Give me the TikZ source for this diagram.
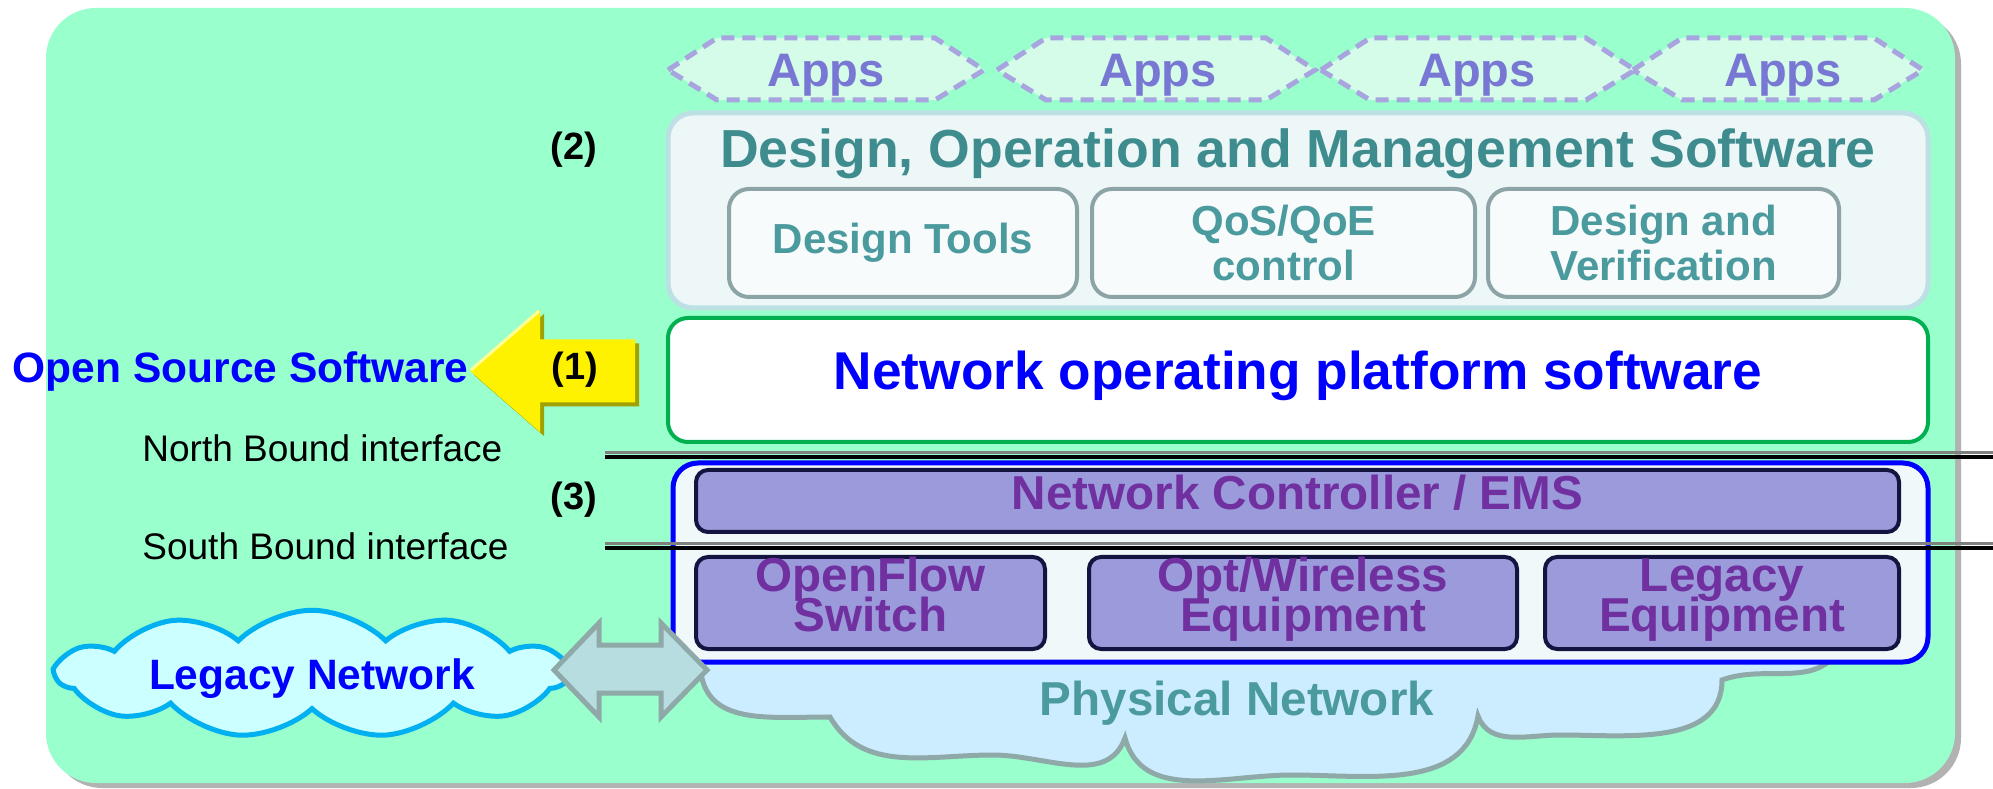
\documentclass[tikz,border=0pt]{standalone}
\usepackage{fontspec}
\setmainfont{Liberation Sans}
\usetikzlibrary{shapes.symbols}

% colours
\definecolor{bggreen}{RGB}{153,255,204}
\definecolor{appfill}{RGB}{212,252,232}
\definecolor{appline}{RGB}{168,164,224}
\definecolor{apptext}{RGB}{120,120,212}
\definecolor{domfill}{RGB}{238,247,248}
\definecolor{domline}{RGB}{188,224,228}
\definecolor{domtext}{RGB}{63,140,143}
\definecolor{subtext}{RGB}{74,154,158}
\definecolor{subline}{RGB}{140,164,166}
\definecolor{subfill}{RGB}{247,251,251}
\definecolor{nopline}{RGB}{0,176,80}
\definecolor{ctrlfill}{RGB}{155,155,219}
\definecolor{ctrlline}{RGB}{20,20,64}
\definecolor{ctrltext}{RGB}{112,48,160}
\definecolor{framefill}{RGB}{240,248,250}
\definecolor{physfill}{RGB}{204,236,255}
\definecolor{physline}{RGB}{143,168,168}
\definecolor{legfill}{RGB}{204,255,255}
\definecolor{legline}{RGB}{0,176,240}
\definecolor{linkfill}{RGB}{184,221,224}
\definecolor{arrowshade}{RGB}{160,160,0}
\definecolor{arrowlight}{RGB}{255,255,150}

\newcommand\tightlines{\lineskiplimit=-30pt\relax}

\tikzset{
  layerbox/.style={draw, inner sep=0pt, align=center},
  dombox/.style={layerbox, draw=domline, fill=domfill, line width=2.5pt, rounded corners=12.5pt,
    minimum width=630pt, minimum height=97.5pt},
  domtitle/.style={anchor=base, text=domtext, font=\bfseries\fontsize{26.8}{30}\selectfont},
  toolbox/.style={layerbox, draw=subline, fill=subfill, line width=2pt, rounded corners=10pt,
    minimum height=54pt, text=subtext, font=\bfseries\fontsize{21}{22.5}\selectfont},
  nopbox/.style={layerbox, draw=nopline, fill=white, line width=2pt, rounded corners=10pt,
    minimum width=630pt, minimum height=62pt, text=blue, text depth=9.4pt,
    font=\bfseries\fontsize{26.6}{30}\selectfont},
  framebox/.style={layerbox, draw=blue, fill=framefill, line width=2.5pt, rounded corners=12.5pt,
    minimum width=627.5pt, minimum height=99.5pt},
  devbox/.style={layerbox, draw=ctrlline, fill=ctrlfill, line width=2pt, rounded corners=6pt,
    text=ctrltext, font=\bfseries\fontsize{23.8}{20}\selectfont\tightlines},
  eqbox/.style={devbox, minimum height=44pt, text height=37.5pt, text depth=8.5pt},
  appshex/.style={draw=appline, line width=2.5pt, dash pattern=on 6.5pt off 4pt},
  appstext/.style={anchor=base, text=apptext, font=\bfseries\fontsize{23.5}{26}\selectfont},
  tag/.style={anchor=base, inner sep=0pt, font=\bfseries\fontsize{19}{22}\selectfont},
  ifacetext/.style={anchor=base west, inner sep=0pt, font=\fontsize{18.5}{22}\selectfont},
  bluetext/.style={text=blue, font=\bfseries\fontsize{21.25}{24}\selectfont},
}

\begin{document}
\begin{tikzpicture}[x=0.5pt, y=0.5pt]
\useasboundingbox (0,0) rectangle (1993,788);

% background panel
\fill[black!30, rounded corners=25pt] (52,0) rectangle (1961,774);
\fill[bggreen, rounded corners=25pt] (46,5) rectangle (1955,780);

% apps
\foreach \cx/\hw in {826/158,1156/159,1478/157,1778/145}
  \fill[appfill] (\cx-\hw,718) -- (\cx-\hw+49,750) -- (\cx+\hw-49,750) -- (\cx+\hw,718)
    -- (\cx+\hw-49,688) -- (\cx-\hw+49,688) -- cycle;
\foreach \cx/\hw/\tx [count=\i] in {826/158/826,1156/159/1158,1478/157/1477,1778/145/1783} {
  \draw[appshex] (\cx-\hw,718) -- (\cx-\hw+49,750) -- (\cx+\hw-49,750) -- (\cx+\hw,718)
    -- (\cx+\hw-49,688) -- (\cx-\hw+49,688) -- cycle;
  \node[appstext] (app\i) at (\tx,701) {Apps};
}

% design, operation and management
\node[dombox] (dom) at (1298,577.5) {};
\node[domtitle] (domt) at (1298,620) {Design, Operation and Management Software};
\node[toolbox, minimum width=174pt] (tools) at (903,545) {Design Tools};
\node[toolbox, minimum width=191.5pt] (qos) at (1283.5,545) {QoS/QoE\\control};
\node[toolbox, minimum width=175.5pt] (verif) at (1663.5,545) {Design and\\Verification};

% platform
\node[nopbox] (nop) at (1298,408) {Network operating platform software};

% physical network
\draw[physline, fill=physfill, line width=2.5pt] (700,128) to[out=-90,in=180,looseness=1.2] (830,71)
  to[out=-60,in=180] (993,33) to[out=0,in=-110] (1125,50)
  to[out=-75,in=180] (1292,13) to[out=0,in=-100] (1478,72)
  to[out=-70,in=180] (1560,53) to[out=0,in=-90] (1722,108)
  to[out=20,in=-120] (1840,140) -- (1840,300) -- (700,300) -- cycle;

% controller and equipment
\node[framebox] (frame) at (1300.5,225.5) {};
\node[devbox, minimum width=601.5pt, minimum height=31pt, text depth=8.5pt] (ems) at (1297.5,287)
  {Network Controller / EMS};
\node[eqbox, minimum width=174.5pt] (ofs) at (870.5,185) {OpenFlow\\Switch};
\node[eqbox, minimum width=214pt] (opt) at (1303,185) {Opt/Wireless\\Equipment};
\node[eqbox, minimum width=177pt] (legeq) at (1722,185) {Legacy\\Equipment};
\node[anchor=base, text=subtext, font=\bfseries\fontsize{23.8}{26}\selectfont] (phys) at (1237,73)
  {Physical Network};

% legacy network
\node[cloud, cloud puffs=11, cloud puff arc=90, aspect=6, draw=legline, fill=legfill,
  line width=2.5pt, minimum width=255pt, minimum height=33pt, bluetext, text height=15.5pt,
  text depth=0pt, inner sep=0pt] (legacy) at (312,114) {Legacy Network};
\draw[physline, fill=linkfill, line width=2.5pt] (554,118) -- (599,165) -- (599,143) -- (661,143)
  -- (661,165) -- (707,118) -- (661,71) -- (661,95) -- (599,95) -- (599,71) -- cycle;

% open source arrow
\fill[arrowshade] (474,413) -- (544,474) -- (544,444.5) -- (639,444.5) -- (639,381.5)
  -- (544,381.5) -- (544,352) -- cycle;
\fill[yellow] (470,417) -- (540,478) -- (540,448.5) -- (635,448.5) -- (635,385.5)
  -- (540,385.5) -- (540,356) -- cycle;
\draw[arrowlight, line width=1.5pt] (471,418) -- (539,477);
\node[bluetext, anchor=base east, inner sep=0pt] (oss) at (469,405) {Open Source Software};

% labels
\node[tag] (tag2) at (574,628) {(2)};
\node[tag] (tag1) at (575,408) {(1)};
\node[tag] (tag3) at (574,278) {(3)};
\node[ifacetext] (nbi) at (142,326) {North Bound interface};
\node[ifacetext] (sbi) at (142,228) {South Bound interface};

% interfaces
\foreach \yy in {333,242} {
  \draw[gray, line width=1.5pt] (605,\yy+2) -- (1993,\yy+2);
  \draw[black, line width=1.75pt] (605,\yy-2.2) -- (1993,\yy-2.2);
}
\end{tikzpicture}
\end{document}
